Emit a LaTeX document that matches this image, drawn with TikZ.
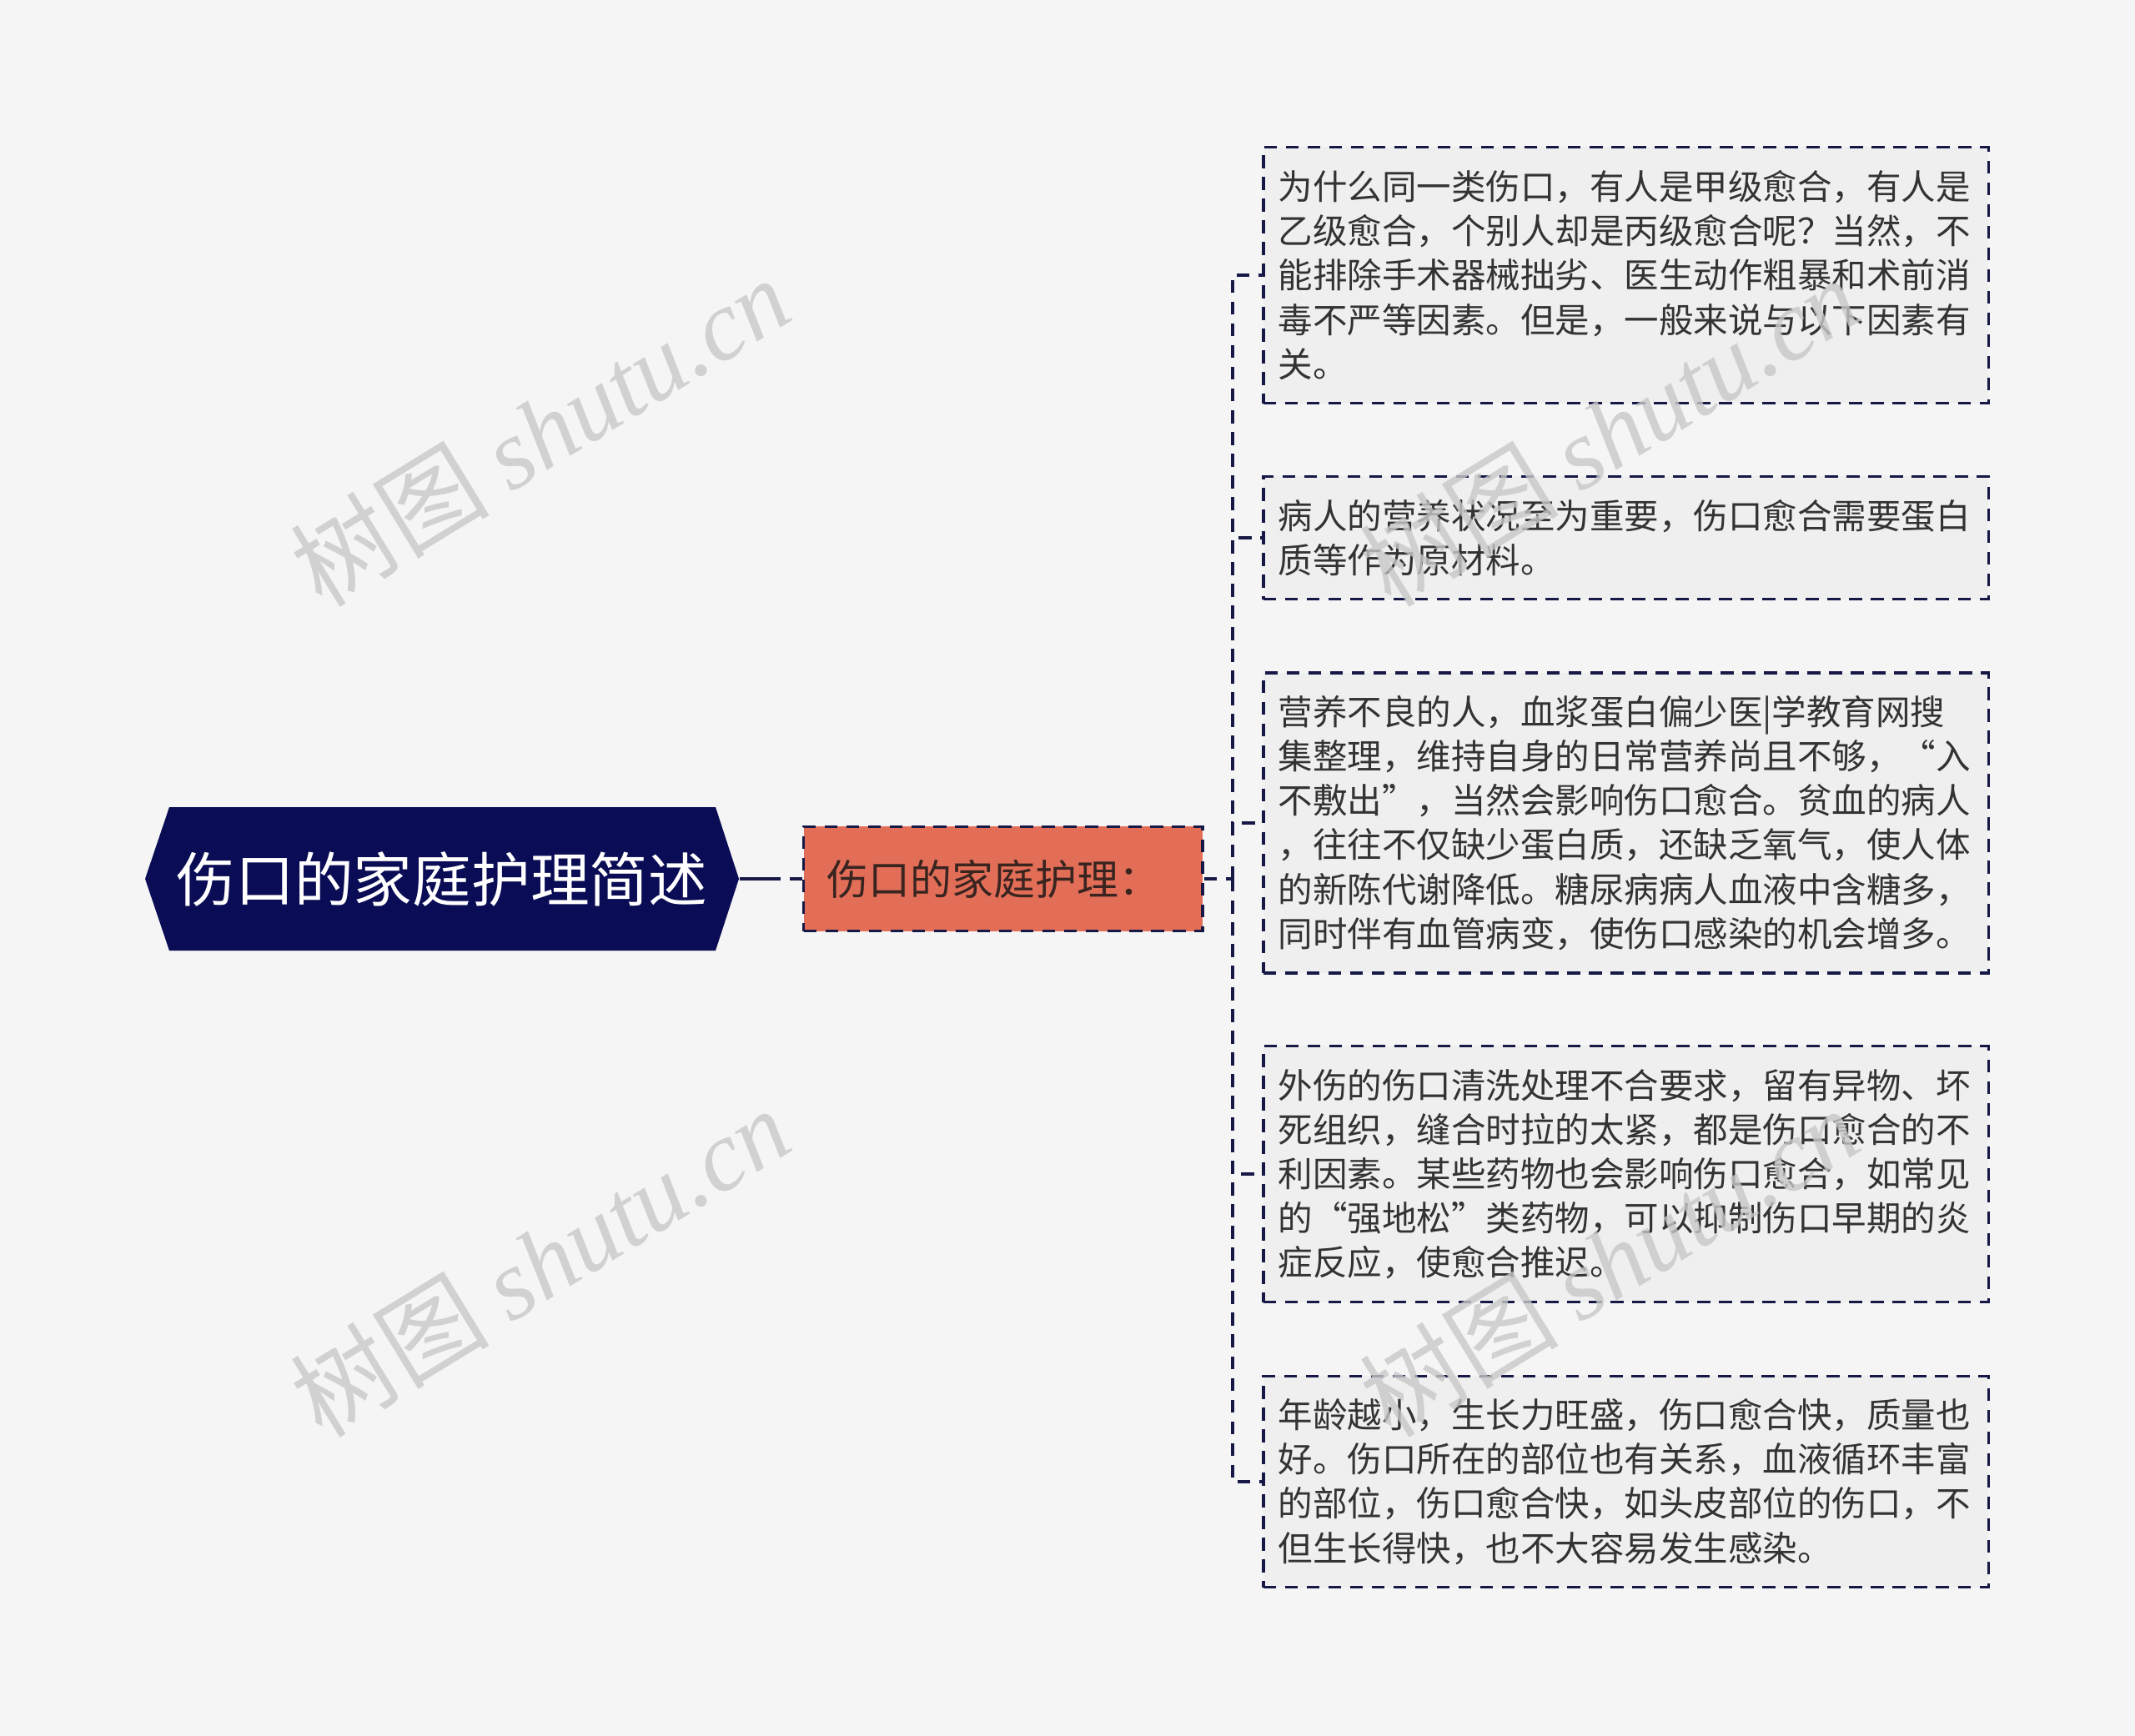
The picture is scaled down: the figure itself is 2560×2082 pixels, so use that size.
\documentclass[tikz,border=0pt]{standalone}
\usepackage{fontspec}
\setmainfont{Noto Sans CJK SC}
\newfontfamily\markfont{Liberation Serif}
\usepackage{tikz}
\usetikzlibrary{positioning}
\definecolor{pagecolor}{RGB}{245,245,245}
\definecolor{rootcolor}{RGB}{10,12,85}
\definecolor{linkcolor}{RGB}{22,24,70}
\definecolor{midcolor}{RGB}{227,110,88}
\definecolor{boxcolor}{RGB}{239,239,239}
\definecolor{textcolor}{RGB}{51,51,51}
\definecolor{midtext}{RGB}{58,36,32}
\definecolor{markcolor}{RGB}{200,200,200}
\tikzset{
    link/.style={draw=linkcolor, line width=1pt, dash pattern=on 4.4pt off 3pt},
    leaf box/.style={rectangle, draw=linkcolor, line width=1pt, dash pattern=on 4.4pt off 3pt, fill=boxcolor, text=textcolor, text width=8.33cm, inner sep=0.18cm, align=left, font=\fontsize{11.8pt}{15.1pt}\selectfont},
    mid box/.style={rectangle, draw=linkcolor, line width=1pt, dash pattern=on 4.4pt off 3pt, fill=midcolor, text=midtext, text width=4.22cm, inner sep=0.28cm, align=left, minimum height=1.25cm, font=\fontsize{14.2pt}{17pt}\selectfont},
    root text/.style={rectangle, text=white, minimum width=7.12cm, minimum height=1.72cm, font=\fontsize{20.1pt}{24pt}\selectfont},
    water mark/.style={text=markcolor, opacity=0.8, rotate=31.5, font=\fontsize{34pt}{40pt}\selectfont}
}
\begin{document}
\begin{tikzpicture}[x=0.01cm, y=-0.01cm]
    \useasboundingbox (0,0) rectangle (2560,2082);
    \fill[pagecolor] (0,0) rectangle (2560,2082);

    % Root topic
    \fill[rootcolor] (174,1054) -- (203,968) -- (858,968) -- (886,1054) -- (858,1140) -- (203,1140) -- cycle;
    \node[root text] (root) at (530,1054) {伤口的家庭护理简述};

    % Sub topic
    \node[mid box, right=0.75cm of root] (mid) {伤口的家庭护理：};
    \draw[link, line width=1.4pt, dash pattern=on 14pt off 3pt] (root.east) -- (mid.west);

    % Detail boxes
    \node[leaf box, minimum height=3.07cm] (reason) at (1949.5,330) {为什么同一类伤口，有人是甲级愈合，有人是\\乙级愈合，个别人却是丙级愈合呢？当然，不\\能排除手术器械拙劣、医生动作粗暴和术前消\\毒不严等因素。但是，一般来说与以下因素有\\关。};
    \node[leaf box, minimum height=1.47cm] (nutrition) at (1949.5,645) {病人的营养状况至为重要，伤口愈合需要蛋白\\质等作为原材料。};
    \node[leaf box, minimum height=3.60cm] (anemia) at (1949.5,987) {营养不良的人，血浆蛋白偏少医|学教育网搜\\集整理，维持自身的日常营养尚且不够，“入\\不敷出”，当然会影响伤口愈合。贫血的病人\\，往往不仅缺少蛋白质，还缺乏氧气，使人体\\的新陈代谢降低。糖尿病病人血液中含糖多，\\同时伴有血管病变，使伤口感染的机会增多。};
    \node[leaf box, minimum height=3.07cm] (drugs) at (1949.5,1408) {外伤的伤口清洗处理不合要求，留有异物、坏\\死组织，缝合时拉的太紧，都是伤口愈合的不\\利因素。某些药物也会影响伤口愈合，如常见\\的“强地松”类药物，可以抑制伤口早期的炎\\症反应，使愈合推迟。};
    \node[leaf box, minimum height=2.53cm] (age) at (1949.5,1777) {年龄越小，生长力旺盛，伤口愈合快，质量也\\好。伤口所在的部位也有关系，血液循环丰富\\的部位，伤口愈合快，如头皮部位的伤口，不\\但生长得快，也不大容易发生感染。};

    % Branch lines
    \coordinate (trunk) at (1478,1054);
    \draw[link] (mid.east) -- (trunk);
    \foreach \leaf in {reason,nutrition,anemia,drugs,age}
        \draw[link] (trunk) |- (\leaf.west);

    % Watermarks
    \node[water mark] (markA) at (647,517) {树图 {\markfont\itshape shutu.cn}};
    \node[water mark] (markB) at (647,1513) {树图 {\markfont\itshape shutu.cn}};
    \node[water mark] (markC) at (1929,517) {树图 {\markfont\itshape shutu.cn}};
    \node[water mark] (markD) at (1929,1513) {树图 {\markfont\itshape shutu.cn}};
\end{tikzpicture}
\end{document}
